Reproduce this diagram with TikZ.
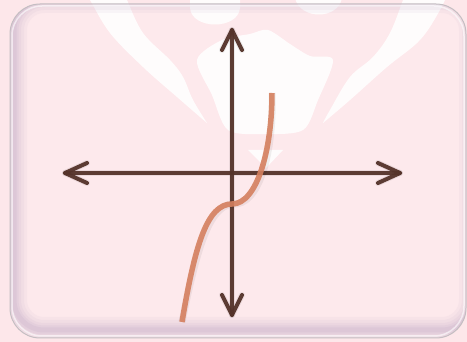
\documentclass[tikz,border=0pt]{standalone}
\usetikzlibrary{calc}
\definecolor{bgpink}{HTML}{FDE7EA}
\definecolor{axbrown}{HTML}{55332A}
\definecolor{curvec}{HTML}{D5805F}
\definecolor{shadowc}{HTML}{C9B3CC}
\definecolor{borderc}{HTML}{C4BEC2}
\tikzset{
  axisline/.style={line width=4pt, line cap=round, line join=round, axbrown, opacity=0.95},
  axisshadow/.style={line width=6pt, line cap=round, line join=round, black, opacity=0.07},
  curveline/.style={line width=5.5pt, line cap=butt, curvec, opacity=0.9},
  wm/.style={fill=white, fill opacity=0.9, draw=none}
}
\begin{document}
\begin{tikzpicture}[x=1pt,y=-1pt]
\useasboundingbox (0,0) rectangle (467,342);
% background
\fill[bgpink] (0,0) rectangle (467,342);
% watermark (faint logo)
\begin{scope}
  \clip (0,0) rectangle (467,342);
  \fill[wm] plot[smooth, tension=0.6] coordinates {(84,-8)(90,0)(110,33)(143,67)(177,97)(207,123)}
    -- plot[smooth, tension=0.6] coordinates {(207,123)(193,100)(183,77)(170,60)(143,33)(127,0)(124,-8)} -- cycle;
  \fill[wm] plot[smooth, tension=0.6] coordinates {(448,-8)(440,10)(420,40)(387,67)(350,100)(323,123)}
    -- plot[smooth, tension=0.6] coordinates {(323,123)(330,110)(350,77)(373,57)(390,33)(403,0)(406,-8)} -- cycle;
  \fill[wm] plot[smooth cycle, tension=0.5] coordinates {(197,60)(222,40)(250,34)(268,30)(290,44)(310,56)(333,60)(318,100)(303,130)(265,134)(228,130)(212,95)};
  \fill[wm] (248,150) -- (283,150) -- (266,168) -- cycle;
  \fill[wm] (190,-2) -- (190,8) .. controls (192,30) and (238,30) .. (240,8) -- (240,-2) -- cycle;
  \fill[wm] (295,-2) .. controls (300,20) and (338,20) .. (342,-2) -- cycle;
\end{scope}
% rounded panel with inner shadow
\begin{scope}
  \clip[rounded corners=30pt] (10,4) rectangle (466,338);
  \fill[white, opacity=0.12] (10,4) rectangle (466,338);
  \foreach \w/\o in {26/0.10,20/0.12,14/0.15,9/0.2,5/0.25} {
    \draw[shadowc, opacity=\o, line width=\w pt, rounded corners=30pt] (14,0) rectangle (472,330);
  }
\end{scope}
\draw[borderc, line width=1pt, rounded corners=30pt] (10,4) rectangle (466,338);
\draw[white, opacity=0.6, line width=1.5pt, rounded corners=30pt] (12,6) rectangle (464,336);
% axes
\coordinate (L) at (65,173);
\coordinate (R) at (400,173);
\coordinate (T) at (232,30);
\coordinate (B) at (232,315);
\begin{scope}[shift={(2,3)}]
  \draw[axisshadow] (L) -- (R);
  \draw[axisshadow] (T) -- (B);
  \draw[axisshadow] ($(L)+(22,-10)$) -- (L) -- ($(L)+(22,10)$);
  \draw[axisshadow] ($(R)+(-22,-10)$) -- (R) -- ($(R)+(-22,10)$);
  \draw[axisshadow] ($(T)+(-10,20)$) -- (T) -- ($(T)+(10,20)$);
  \draw[axisshadow] ($(B)+(-10,-20)$) -- (B) -- ($(B)+(10,-20)$);
\end{scope}
\draw[axisline] (L) -- (R);
\draw[axisline] (T) -- (B);
\draw[axisline] ($(L)+(22,-10)$) -- (L) -- ($(L)+(22,10)$);
\draw[axisline] ($(R)+(-22,-10)$) -- (R) -- ($(R)+(-22,10)$);
\draw[axisline] ($(T)+(-10,20)$) -- (T) -- ($(T)+(10,20)$);
\draw[axisline] ($(B)+(-10,-20)$) -- (B) -- ($(B)+(10,-20)$);
% curve
\coordinate (c0) at (182,322);
\coordinate (c1) at (232,204);
\coordinate (c2) at (272,93);
\draw[line width=7pt, black, opacity=0.06, shift={(2,3)}] (c0) .. controls (195,245) and (207,204) .. (c1)
  .. controls (257,204) and (272,150) .. (c2);
\draw[curveline] (c0) .. controls (195,245) and (207,204) .. (c1)
  .. controls (257,204) and (272,150) .. (c2);
\end{tikzpicture}
\end{document}
